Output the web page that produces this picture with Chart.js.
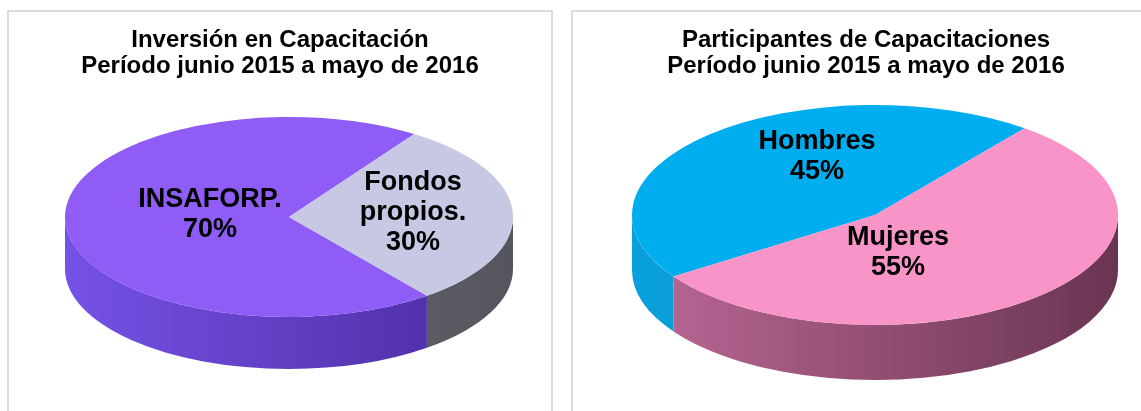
<!DOCTYPE html>
<html>
<head>
<meta charset="utf-8">
<script src="https://cdn.jsdelivr.net/npm/chart.js@4.4.1/dist/chart.umd.min.js"></script>
<style>
  body { margin: 0; background: #fff; overflow: hidden; width: 1141px; height: 411px; position: relative; }
  .box { position: absolute; border: 2px solid #dcdcdc; overflow: hidden; }
  #box1 { left: 7px; top: 10px; width: 542px; height: 420px; }
  #box2 { left: 571px; top: 10px; width: 586px; height: 420px; }
  canvas { display: block; }
</style>
</head>
<body>
<div class="box" id="box1"><canvas id="invChart" width="542" height="400"></canvas></div>
<div class="box" id="box2"><canvas id="partChart" width="586" height="400"></canvas></div>
<script>
// data
const invTitle = ['Inversión en Capacitación', 'Período junio 2015 a mayo de 2016'];
const invLabels = ['INSAFORP.', 'Fondos propios.'];
const invValues = [70, 30];

const partTitle = ['Participantes de Capacitaciones', 'Período junio 2015 a mayo de 2016'];
const partLabels = ['Hombres', 'Mujeres'];
const partValues = [45, 55];

const FONT = '"Liberation Sans", Arial, sans-serif';

// fake 3d: flatten the pie into an ellipse and add a side wall under the front half
const pie3d = {
    id: 'pie3d',
    beforeDatasetsDraw(chart, args, o) {
        const ctx = chart.ctx;
        const arcs = chart.getDatasetMeta(0).data;
        arcs.forEach((arc, i) => {
            const { startAngle, endAngle } = arc.getProps(['startAngle', 'endAngle'], true);
            for (let k = -2; k <= 2; k++) {
                const lo = Math.max(startAngle, 2 * Math.PI * k);
                const hi = Math.min(endAngle, 2 * Math.PI * k + Math.PI);
                if (hi <= lo) continue;
                const g = ctx.createLinearGradient(o.cx - o.rx, 0, o.cx + o.rx, 0);
                g.addColorStop(0, o.sideColors[i][0]);
                g.addColorStop(1, o.sideColors[i][1]);
                ctx.beginPath();
                ctx.ellipse(o.cx, o.cy, o.rx, o.ry, 0, lo, hi);
                ctx.ellipse(o.cx, o.cy + o.depth, o.rx, o.ry, 0, hi, lo, true);
                ctx.closePath();
                ctx.fillStyle = g;
                ctx.fill();
            }
        });
        const a = arcs[0];
        ctx.save();
        ctx.translate(o.cx, o.cy);
        ctx.scale(o.rx / a.outerRadius, o.ry / a.outerRadius);
        ctx.translate(-a.x, -a.y);
    },
    afterDatasetsDraw(chart) {
        chart.ctx.restore();
    },
    afterDraw(chart, args, o) {
        const ctx = chart.ctx;
        const values = chart.data.datasets[0].data;
        ctx.save();
        ctx.font = 'bold 27px ' + FONT;
        ctx.fillStyle = '#000';
        ctx.textAlign = 'center';
        ctx.textBaseline = 'middle';
        chart.data.labels.forEach((lab, i) => {
            const lines = lab.split(' ').concat([values[i] + '%']);
            const x = o.cx + o.labelPos[i][0] * o.rx;
            const y = o.cy + o.labelPos[i][1] * o.ry;
            lines.forEach((t, j) => {
                ctx.fillText(t, x, y + (j - (lines.length - 1) / 2) * 30);
            });
        });
        ctx.restore();
    }
};

function makePie(id, title, labels, values, colors, opts) {
    return new Chart(document.getElementById(id), {
        type: 'pie',
        data: {
            labels: labels,
            datasets: [{
                data: values,
                backgroundColor: colors,
                borderWidth: 0,
                clip: false
            }]
        },
        options: {
            responsive: false,
            animation: false,
            events: [],
            rotation: opts.rotation,
            plugins: {
                legend: { display: false },
                tooltip: { enabled: false },
                title: {
                    display: true,
                    text: title,
                    color: '#000',
                    font: { family: FONT, size: 24, weight: 'bold', lineHeight: 1.08 },
                    padding: { top: 15, bottom: 10 }
                },
                pie3d: opts
            }
        },
        plugins: [pie3d]
    });
}

makePie('invChart', invTitle, invLabels, invValues, ['#8f5cf6', '#c7c8e4'], {
    rotation: 142,
    cx: 280, cy: 205, rx: 224, ry: 100, depth: 52,
    sideColors: [['#7552e6', '#4a2a9e'], ['#74747f', '#55555e']],
    labelPos: [[-0.353, -0.02], [0.554, -0.04]]
});

makePie('partChart', partTitle, partLabels, partValues, ['#00aeef', '#f994c8'], {
    rotation: 236,
    cx: 302, cy: 203, rx: 243, ry: 110, depth: 55,
    sideColors: [['#0aa0dc', '#0a88c0'], ['#bb6896', '#6a3552']],
    labelPos: [[-0.239, -0.527], [0.095, 0.345]]
});
</script>
</body>
</html>
